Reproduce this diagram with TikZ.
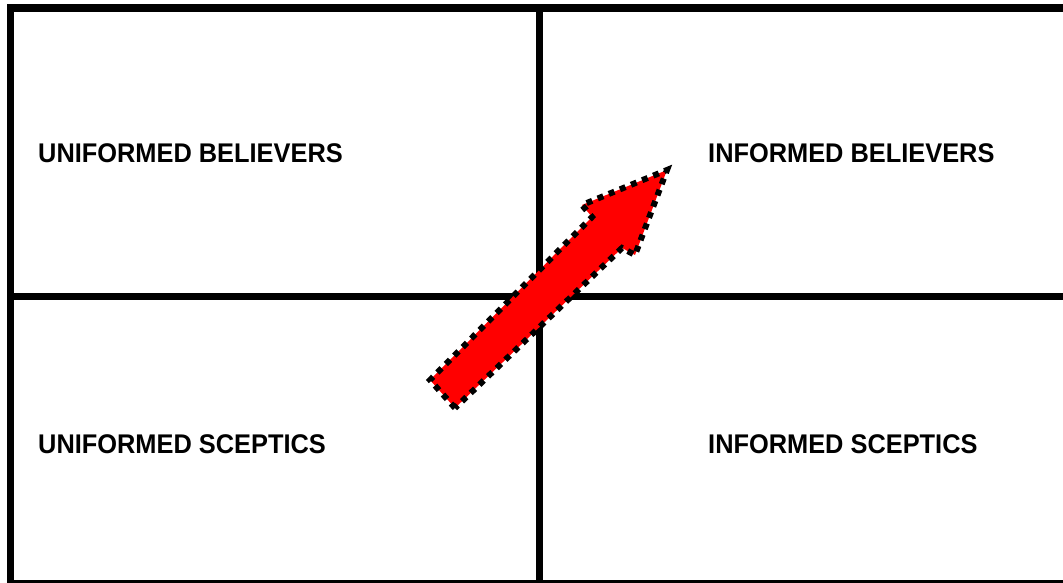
\documentclass[tikz,border=0pt]{standalone}
\usepackage{fontspec}
\setmainfont{Liberation Sans}
\usetikzlibrary{positioning}
\newcommand{\quadlabel}[1]{\scalebox{0.94}[1]{#1}}

\begin{document}
\begin{tikzpicture}[x=1pt,y=-1pt,
  every node/.style={font=\fontsize{27}{30}\selectfont\bfseries,inner sep=0pt,anchor=base west},
  frame/.style={line width=7.5pt},
  divider/.style={line width=7pt},
  uparrow/.style={fill=red,draw=black,line width=6pt,dash pattern=on 6pt off 6pt}]
\useasboundingbox (0,0) rectangle (1063,583);
% quadrant grid
\draw[frame] (10.5,8) rectangle (1069,584);
\draw[divider] (539,8) -- (539,584);
\draw[divider] (10.5,296) -- (1069,296);
% labels
\node (ub) at (38,162) {\quadlabel{UNIFORMED BELIEVERS}};
\node (ib) at (708,162) {\quadlabel{INFORMED BELIEVERS}};
\node (us) at (38,453) {\quadlabel{UNIFORMED SCEPTICS}};
\node (is) at (708,453) {\quadlabel{INFORMED SCEPTICS}};
% arrow from sceptics to believers
\draw[uparrow] (455,408) -- (430,380) -- (592,217) -- (582,205)
  -- (667,170) -- (635,255) -- (622,248) -- cycle;
\end{tikzpicture}
\end{document}
